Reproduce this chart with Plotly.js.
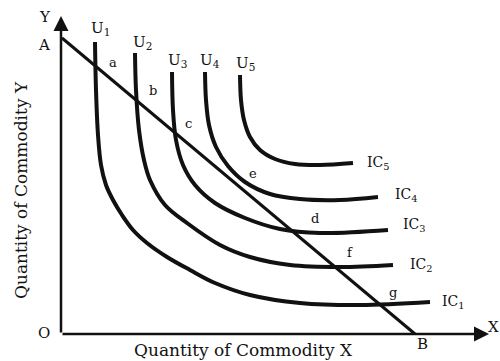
<!DOCTYPE html>
<html><head><meta charset="utf-8">
<script src="https://cdn.plot.ly/plotly-3.0.1.min.js"></script>
<style>html,body{margin:0;padding:0;background:#fff}</style>
</head><body><div id="chart" style="width:500px;height:361px"></div>
<script>
// Indifference curves (chart units)
const ic1X = [34,35,37,40,45,52,61,72,86,106,129,154,189,239,299,369];
const ic1Y = [292,244,199,169,149,134,119,104,91,77,64,51,39,31,29,32];
const ic2X = [74,75,78,83,89,104,126,159,189,229,279,332];
const ic2Y = [281,244,204,174,154,129,111,89,77,69,67,69];
const ic3X = [111,112,115,122,134,154,184,219,259,327];
const ic3Y = [262,224,194,169,149,131,116,105,101,104];
const ic4X = [144,145,148,155,167,184,209,239,279,317];
const ic4Y = [262,234,209,187,168,152,140,135,134,137];
const ic5X = [179,180,183,189,199,214,234,259,292];
const ic5Y = [259,234,214,197,184,175,170,169,171];
// Budget line A-B
const budgetX = [1,354];
const budgetY = [296,0];
// Labels
const curveLabels = ["IC<sub>1</sub>","IC<sub>2</sub>","IC<sub>3</sub>","IC<sub>4</sub>","IC<sub>5</sub>"];
const curveLabelX = [381,349,342,334,306];
const curveLabelY = [32,69,109,139,171];
const uLabels = ["U<sub>1</sub>","U<sub>2</sub>","U<sub>3</sub>","U<sub>4</sub>","U<sub>5</sub>"];
const uLabelX = [39,81,116,149,184];
const uLabelY = [306,292,274,274,271];
const pointLabels = ["a","b","c","e","d","f","g"];
const pointX = [52,92,127,192,254,289,332];
const pointY = [272,244,211,161,116,82,42];
const axisLetters = ["Y","A","O","X","B"];
const axisLetterX = [-16,-17,-17,432,361];
const axisLetterY = [317,289,1,7,-10];

const F = "DejaVu Serif, serif";
const curves = [[ic1X,ic1Y],[ic2X,ic2Y],[ic3X,ic3Y],[ic4X,ic4Y],[ic5X,ic5Y]];
const traces = curves.map(c => ({x:c[0], y:c[1], mode:'lines', line:{color:'#111', width:4, shape:'spline', smoothing:1}, hoverinfo:'skip', cliponaxis:false}));
traces.push({x:budgetX, y:budgetY, mode:'lines', line:{color:'#111', width:3}, hoverinfo:'skip'});

const ann = [];
const txt = (t,x,y,s) => ann.push({text:t, x:x, y:y, xref:'x', yref:'y', showarrow:false, font:{family:F, size:s, color:'#111'}});
curveLabels.forEach((t,i)=>txt(t,curveLabelX[i]+11,curveLabelY[i],14));
uLabels.forEach((t,i)=>txt(t,uLabelX[i],uLabelY[i],15));
pointLabels.forEach((t,i)=>txt(t,pointX[i],pointY[i],13));
axisLetters.forEach((t,i)=>txt(t,axisLetterX[i],axisLetterY[i],15));
// axes arrows
ann.push({x:0, y:318, ax:0, ay:0, xref:'x', yref:'y', axref:'x', ayref:'y', showarrow:true, arrowhead:2, arrowsize:1.2, arrowwidth:2.5, arrowcolor:'#111', text:''});
ann.push({x:428, y:0, ax:0, ay:0, xref:'x', yref:'y', axref:'x', ayref:'y', showarrow:true, arrowhead:2, arrowsize:1.2, arrowwidth:2.5, arrowcolor:'#111', text:''});
// axis titles
ann.push({text:'Quantity of Commodity X', x:182, y:-16, xref:'x', yref:'y', showarrow:false, font:{family:F, size:17, color:'#111'}});
ann.push({text:'Quantity of Commodity Y', x:-40, y:144, xref:'x', yref:'y', showarrow:false, textangle:-90, font:{family:F, size:17, color:'#111'}});

Plotly.newPlot('chart', traces, {
  width:500, height:361, margin:{l:0, r:0, t:0, b:0},
  paper_bgcolor:'#fff', plot_bgcolor:'#fff', showlegend:false,
  xaxis:{range:[-61,439], visible:false, fixedrange:true},
  yaxis:{range:[-27,334], visible:false, fixedrange:true},
  annotations:ann
}, {staticPlot:true});
</script></body></html>
